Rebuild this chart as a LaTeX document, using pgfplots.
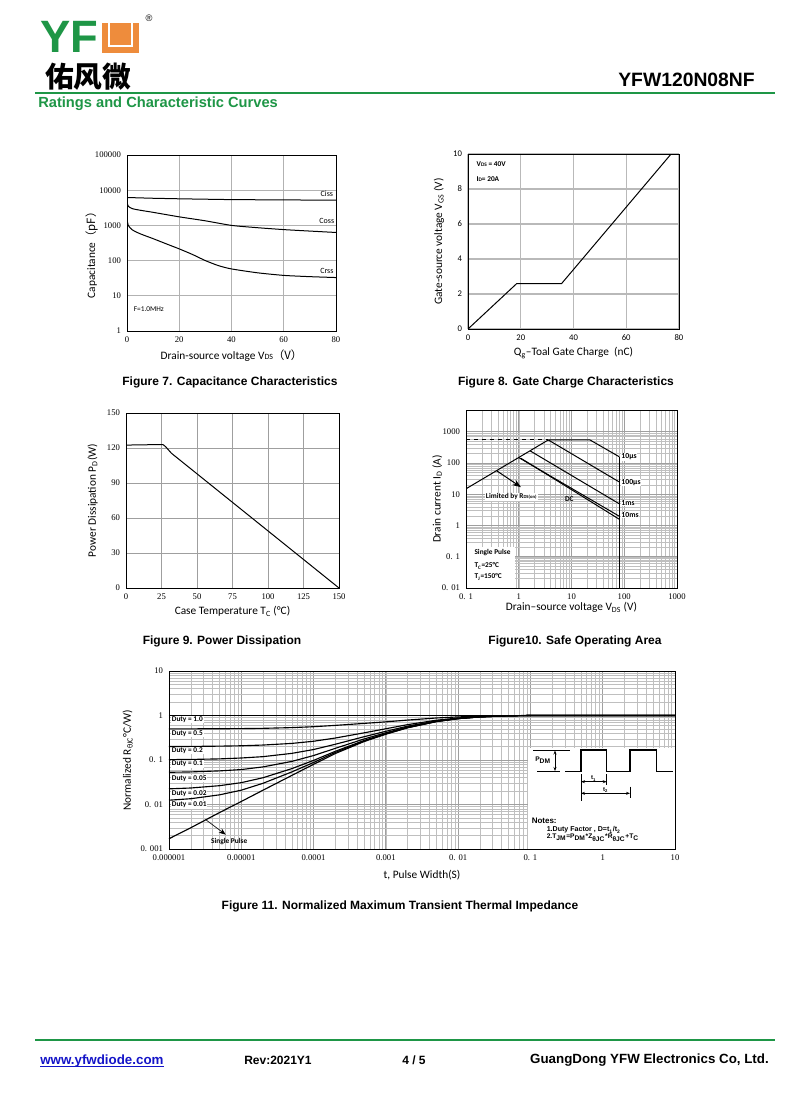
\documentclass[border=0pt]{standalone}
\usepackage{fontspec}
\usepackage{pgfplots}
\pgfplotsset{compat=1.18}
\usetikzlibrary{arrows.meta}
\setmainfont{Liberation Serif}
\newfontfamily\calib{Carlito}
\newfontfamily\ari{Liberation Sans}
\newfontfamily\cjk{Noto Sans CJK SC}
\definecolor{yfgreen}{RGB}{30,150,70}
\definecolor{yforange}{RGB}{238,140,60}
\definecolor{linkblue}{RGB}{20,20,200}
\pgfplotsset{
  dsbase/.style={scale only axis, anchor=south west,
    axis line style={line width=0.6pt},
    major tick length=0pt, minor tick length=0pt,
    tick label style={font=\fontsize{6.5}{7}\selectfont},
    label style={font=\calib\fontsize{8.5}{9}\selectfont},
    xticklabel style={yshift=-1pt}, yticklabel style={xshift=-1pt}},
}
\tikzset{cv/.style={black, line width=0.75pt, mark=none}}
\begin{document}
\begin{tikzpicture}
\useasboundingbox (0,0) rectangle (600pt,-824.25pt);
\fill[white] (0,0) rectangle (600pt,-824.25pt);

% ---------------- Figure 7
\begin{axis}[dsbase, at={(95.25pt,-248.25pt)}, width=156.75pt, height=132pt,
  xmin=0, xmax=80, ymin=1, ymax=100000, ymode=log,
  xtick={0,20,40,60,80}, xticklabels={0,20,40,60,80},
  ytick={1,10,100,1000,10000,100000}, yticklabels={1,10,100,1000,10000,100000},
  grid=major, major grid style={gray!60, line width=0.6pt},
  xlabel={Drain-source voltage V{\fontsize{6}{6}\selectfont DS}{\cjk （V）}},
  xlabel style={yshift=2pt},
  ylabel={Capacitance{\cjk （pF）}},
  ylabel style={yshift=-9pt, xshift=-7pt}]
\addplot[cv] coordinates {(0,6200) (10,5900) (20,5700) (40,5400) (60,5300) (80,5200)};
\addplot[cv, smooth, tension=0.4] coordinates {(0,4500) (0.5,3500) (2,3000) (5,2700) (10,2350) (20,1750) (30,1350) (40,1000) (50,860) (60,760) (70,690) (80,630)};
\addplot[cv, smooth, tension=0.4] coordinates {(0,1550) (0.5,1000) (2,750) (5,580) (10,420) (15,300) (20,215) (25,150) (30,100) (35,72) (40,58) (50,45) (60,38) (70,35) (80,33)};
\node[font=\calib\fontsize{6}{6}\selectfont] at (axis cs:76.5,8000) {Ciss};
\node[font=\calib\fontsize{6}{6}\selectfont] at (axis cs:76.5,1300) {Coss};
\node[font=\calib\fontsize{6}{6}\selectfont] at (axis cs:76.5,52) {Crss};
\node[anchor=west, font=\calib\fontsize{5.5}{6}\selectfont] at (axis cs:0.8,4.1) {F=1.0MHz};
\draw[line width=0.6pt] (rel axis cs:0,0) rectangle (rel axis cs:1,1);
\end{axis}

% ---------------- Figure 8
\begin{axis}[dsbase, at={(351pt,-246.75pt)}, width=158.25pt, height=131.25pt,
  xmin=0, xmax=80, ymin=0, ymax=10,
  xtick={0,20,40,60,80}, xticklabels={0,20,40,60,80},
  ytick={0,2,4,6,8,10}, yticklabels={0,2,4,6,8,10},
  tick label style={font=\calib\fontsize{6.5}{7}\selectfont},
  grid=major, major grid style={gray!55, line width=1pt},
  xlabel={Q\textsubscript{g}–Toal Gate Charge~~(nC)},
  xlabel style={yshift=2pt},
  ylabel={Gate-source voltage V\textsubscript{GS} (V)}]
\addplot[cv] coordinates {(0,0) (18.5,2.6) (35.5,2.6) (40,3.4) (77,10)};
\node[anchor=west, font=\calib\bfseries\fontsize{5.5}{6}\selectfont] at (axis cs:1.5,9.4) {V{\fontsize{4}{4}\selectfont DS} = 40V};
\node[anchor=west, font=\calib\bfseries\fontsize{5.5}{6}\selectfont] at (axis cs:1.5,8.55) {I{\fontsize{4}{4}\selectfont D}= 20A};
\draw[line width=0.6pt] (rel axis cs:0,0) rectangle (rel axis cs:1,1);
\end{axis}

% ---------------- Figure 9
\begin{axis}[dsbase, at={(94.5pt,-441pt)}, width=159.75pt, height=131.25pt,
  xmin=0, xmax=150, ymin=0, ymax=150,
  xtick={0,25,50,75,100,125,150}, xticklabels={0,25,50,75,100,125,150},
  ytick={0,30,60,90,120,150}, yticklabels={0,30,60,90,120,150},
  grid=major, major grid style={gray!75, line width=0.7pt},
  xlabel={Case Temperature T\textsubscript{C} (°C)},
  xlabel style={yshift=2pt},
  ylabel={Power Dissipation P\textsubscript{D}(W)}]
\addplot[cv] coordinates {(0,122.5) (26,123) (28,121) (32,115.5) (150,0)};
\draw[line width=0.6pt] (rel axis cs:0,0) rectangle (rel axis cs:1,1);
\end{axis}

% ---------------- Figure 10
\begin{axis}[dsbase, at={(349.5pt,-441pt)}, width=158.25pt, height=133.5pt,
  xmode=log, ymode=log, xmin=0.1, xmax=1000, ymin=0.01, ymax=5000,
  xtick={0.1,1,10,100,1000}, xticklabels={0. 1,1,10,100,1000},
  ytick={0.01,0.1,1,10,100,1000}, yticklabels={0. 01,0. 1,1,10,100,1000},
  grid=both, minor grid style={gray!50, line width=0.35pt},
  major grid style={gray!75, line width=0.55pt},
  xlabel={Drain–source voltage V\textsubscript{DS} (V)},
  xlabel style={yshift=5pt},
  ylabel={Drain current I\textsubscript{D} (A)},
  ylabel style={yshift=-7pt}]
\fill[white] (axis cs:0.1,0.01) rectangle (axis cs:0.85,0.21);
\addplot[cv, dashed] coordinates {(0.1,550) (3.63,550)};
\addplot[cv] coordinates {(0.1,15) (3.63,550)};
\addplot[cv] coordinates {(3.63,550) (22.4,550) (80,160)};
\addplot[cv] coordinates {(3.63,550) (80,25)};
\addplot[cv] coordinates {(1.65,245) (80,5)};
\addplot[cv] coordinates {(1.0,150) (80,2.0)};
\addplot[cv] coordinates {(1.1,142) (80,1.6)};
\addplot[cv] coordinates {(80,160) (80,0.01)};
\draw[cv, -Stealth] (axis cs:0.38,57) -- (axis cs:1.1,17);
\node[fill=white, inner sep=0.8pt, font=\calib\bfseries\fontsize{5.5}{6}\selectfont] at (axis cs:0.72,8.2) {Limited by R{\fontsize{3.5}{4}\selectfont DS(on)}};
\node[font=\calib\bfseries\fontsize{5.5}{6}\selectfont] at (axis cs:9.1,6.8) {DC};
\node[anchor=west, fill=white, inner sep=0.5pt, font=\calib\bfseries\fontsize{5.8}{6}\selectfont] at (axis cs:85,160) {10µs};
\node[anchor=west, fill=white, inner sep=0.5pt, font=\calib\bfseries\fontsize{5.8}{6}\selectfont] at (axis cs:85,24) {100µs};
\node[anchor=west, fill=white, inner sep=0.5pt, font=\calib\bfseries\fontsize{5.8}{6}\selectfont] at (axis cs:85,5.2) {1ms};
\node[anchor=west, fill=white, inner sep=0.5pt, font=\calib\bfseries\fontsize{5.8}{6}\selectfont] at (axis cs:85,2.2) {10ms};
\node[anchor=west, font=\calib\bfseries\fontsize{5.5}{6}\selectfont] at (axis cs:0.118,0.135) {Single Pulse};
\node[anchor=west, font=\calib\bfseries\fontsize{5.5}{6}\selectfont] at (axis cs:0.118,0.0513) {T\textsubscript{C}=25°C};
\node[anchor=west, font=\calib\bfseries\fontsize{5.5}{6}\selectfont] at (axis cs:0.118,0.0226) {T\textsubscript{J}=150°C};
\draw[line width=0.6pt] (rel axis cs:0,0) rectangle (rel axis cs:1,1);
\end{axis}

% ---------------- Figure 11
\begin{axis}[dsbase, at={(126.75pt,-636.75pt)}, width=379.5pt, height=133.5pt,
  xmode=log, ymode=log, xmin=0.000001, xmax=10, ymin=0.001, ymax=10,
  xtick={0.000001,0.00001,0.0001,0.001,0.01,0.1,1,10},
  xticklabels={0.000001,0.00001,0.0001,0.001,0. 01,0. 1,1,10},
  ytick={0.001,0.01,0.1,1,10}, yticklabels={0. 001,0. 01,0. 1,1,10},
  grid=both, minor grid style={gray!50, line width=0.35pt},
  major grid style={gray!75, line width=0.55pt},
  xlabel={t, Pulse Width(S)},
  ylabel={Normalized R\textsubscript{θJC}°C/W)},
  ylabel style={yshift=-1pt}]
\fill[white] (axis cs:0.092,0.001) rectangle (axis cs:10,0.186);
\node[anchor=west, fill=white, inner sep=0.6pt, font=\calib\bfseries\fontsize{5.5}{6}\selectfont] at (axis cs:0.00000106,0.822) {Duty = 1.0};
\node[anchor=west, fill=white, inner sep=0.6pt, font=\calib\bfseries\fontsize{5.5}{6}\selectfont] at (axis cs:0.00000106,0.398) {Duty = 0.5};
\node[anchor=west, fill=white, inner sep=0.6pt, font=\calib\bfseries\fontsize{5.5}{6}\selectfont] at (axis cs:0.00000106,0.162) {Duty = 0.2};
\node[anchor=west, fill=white, inner sep=0.6pt, font=\calib\bfseries\fontsize{5.5}{6}\selectfont] at (axis cs:0.00000106,0.0813) {Duty = 0.1};
\node[anchor=west, fill=white, inner sep=0.6pt, font=\calib\bfseries\fontsize{5.5}{6}\selectfont] at (axis cs:0.00000106,0.0388) {Duty = 0.05};
\node[anchor=west, fill=white, inner sep=0.6pt, font=\calib\bfseries\fontsize{5.5}{6}\selectfont] at (axis cs:0.00000106,0.01786) {Duty = 0.02};
\node[anchor=west, fill=white, inner sep=0.6pt, font=\calib\bfseries\fontsize{5.5}{6}\selectfont] at (axis cs:0.00000106,0.00975) {Duty = 0.01};
\addplot[cv, line width=0.9pt] coordinates {(0.000001,1) (10,1)};
\addplot[cv, line width=0.85pt] coordinates {(0.000001,0.501) (0.000002,0.502) (0.000005,0.504) (0.00001,0.508) (0.00002,0.515) (0.00005,0.535) (0.0001,0.56) (0.0002,0.60) (0.0005,0.665) (0.001,0.72) (0.002,0.79) (0.005,0.88) (0.01,0.93) (0.02,0.97) (0.05,0.994) (0.1,1) (1,1) (10,1)};
\addplot[cv, line width=0.85pt] coordinates {(0.000001,0.201) (0.000002,0.202) (0.000005,0.205) (0.00001,0.209) (0.00002,0.217) (0.00005,0.236) (0.0001,0.264) (0.0002,0.312) (0.0005,0.408) (0.001,0.504) (0.002,0.624) (0.005,0.784) (0.01,0.88) (0.02,0.944) (0.05,0.988) (0.1,1) (1,1) (10,1)};
\addplot[cv, line width=0.85pt] coordinates {(0.000001,0.102) (0.000002,0.103) (0.000005,0.106) (0.00001,0.111) (0.00002,0.119) (0.00005,0.141) (0.0001,0.172) (0.0002,0.226) (0.0005,0.334) (0.001,0.442) (0.002,0.577) (0.005,0.757) (0.01,0.865) (0.02,0.937) (0.05,0.987) (0.1,1) (1,1) (10,1)};
\addplot[cv, line width=0.85pt] coordinates {(0.000001,0.053) (0.000002,0.054) (0.000005,0.057) (0.00001,0.061) (0.00002,0.070) (0.00005,0.093) (0.0001,0.126) (0.0002,0.183) (0.0005,0.297) (0.001,0.41) (0.002,0.554) (0.005,0.744) (0.01,0.858) (0.02,0.934) (0.05,0.986) (0.1,1) (1,1) (10,1)};
\addplot[cv, line width=0.85pt] coordinates {(0.000001,0.0225) (0.000002,0.0235) (0.000005,0.0265) (0.00001,0.031) (0.00002,0.040) (0.00005,0.064) (0.0001,0.098) (0.0002,0.157) (0.0005,0.275) (0.001,0.392) (0.002,0.54) (0.005,0.735) (0.01,0.853) (0.02,0.931) (0.05,0.985) (0.1,1) (1,1) (10,1)};
\addplot[cv, line width=0.85pt] coordinates {(0.000001,0.0125) (0.000002,0.0135) (0.000005,0.0165) (0.00001,0.021) (0.00002,0.030) (0.00005,0.054) (0.0001,0.088) (0.0002,0.148) (0.0005,0.267) (0.001,0.386) (0.002,0.535) (0.005,0.733) (0.01,0.852) (0.02,0.931) (0.05,0.985) (0.1,1) (1,1) (10,1)};
\addplot[cv, line width=0.85pt] coordinates {(0.000001,0.0017) (0.000002,0.0030) (0.000005,0.0066) (0.00001,0.0117) (0.00002,0.021) (0.00005,0.045) (0.0001,0.080) (0.0002,0.14) (0.0005,0.26) (0.001,0.38) (0.002,0.53) (0.005,0.73) (0.01,0.85) (0.02,0.93) (0.05,0.985) (0.1,1)};
\draw[black, line width=0.5pt, -Stealth] (axis cs:0.0000032,0.0046) -- (axis cs:0.0000061,0.0021);
\node[font=\calib\bfseries\fontsize{5.5}{6}\selectfont] at (axis cs:0.0000068,0.00145) {Single Pulse};
\draw[line width=0.6pt] (rel axis cs:0,0) rectangle (rel axis cs:1,1);
\end{axis}

% ---------------- page decoration (pixel coordinates)
\begin{scope}[x=0.75pt,y=-0.75pt]
% logo
\node[anchor=base west, inner sep=0, text=yfgreen, font=\ari\bfseries\fontsize{34}{34}\selectfont] at (40,53) {YF};
\fill[yforange] (102,23) rectangle (139,53);
\draw[white, line width=1.6pt] (109,23) -- (109,46) -- (132,46) -- (132,23);
\node[font=\ari\fontsize{7}{7}\selectfont] at (149,18) {®};
\node[anchor=base west, inner sep=0, font=\cjk\bfseries\fontsize{21.5}{22}\selectfont] at (45,88) {佑风微};
\node[anchor=base east, inner sep=0, font=\ari\bfseries\fontsize{14.5}{15}\selectfont] at (755,86) {YFW120N08NF};
\draw[yfgreen, line width=1.5pt] (35,93) -- (775,93);
\node[anchor=base west, inner sep=0, text=yfgreen, font=\ari\bfseries\fontsize{11}{11}\selectfont] at (38,108) {Ratings and Characteristic Curves};
% captions
\node[font=\ari\bfseries\fontsize{9}{9}\selectfont] at (230,382) {Figure 7. Capacitance Characteristics};
\node[font=\ari\bfseries\fontsize{9}{9}\selectfont] at (566,382) {Figure 8. Gate Charge Characteristics};
\node[font=\ari\bfseries\fontsize{9}{9}\selectfont] at (222,641) {Figure 9. Power Dissipation};
\node[font=\ari\bfseries\fontsize{9}{9}\selectfont] at (575,641) {Figure10. Safe Operating Area};
\node[font=\ari\bfseries\fontsize{9}{9}\selectfont] at (400,906) {Figure 11. Normalized Maximum Transient Thermal Impedance};
% pulse diagram in figure 11
\draw[line width=0.7pt] (533,750) -- (570,750);
\draw[line width=0.7pt] (537,771.5) -- (560,771.5);
\draw[line width=0.6pt, {Stealth[length=3pt]}-{Stealth[length=3pt]}] (555,750.5) -- (555,771);
\node[anchor=east, inner sep=0, font=\ari\bfseries\fontsize{5}{5}\selectfont] at (551,760) {P\textsubscript{DM}};
\draw[line width=0.9pt] (565,771.5) -- (581,771.5) -- (581,750) -- (606.7,750) -- (606.7,771.5) -- (630,771.5) -- (630,750) -- (656.7,750) -- (656.7,771.5) -- (673.3,771.5);
\draw[line width=0.5pt] (581,774) -- (581,801);
\draw[line width=0.5pt] (606.7,774) -- (606.7,785);
\draw[line width=0.5pt] (630,786.7) -- (630,798.3);
\draw[line width=0.5pt, {Stealth[length=3pt]}-{Stealth[length=3pt]}] (581,781.7) -- (606.7,781.7);
\draw[line width=0.5pt, {Stealth[length=3pt]}-{Stealth[length=3pt]}] (581,793.3) -- (630,793.3);
\node[font=\ari\bfseries\fontsize{4.5}{5}\selectfont, inner sep=0] at (593.5,778.5) {t\textsubscript{1}};
\node[font=\ari\bfseries\fontsize{4.5}{5}\selectfont, inner sep=0] at (605.5,790) {t\textsubscript{2}};
\node[anchor=west, inner sep=0, font=\ari\bfseries\fontsize{6}{6}\selectfont] at (531.5,821) {Notes:};
\node[anchor=west, inner sep=0, font=\ari\bfseries\fontsize{5.3}{6}\selectfont] at (546.5,830) {1.Duty Factor , D=t\textsubscript{1}/t\textsubscript{2}};
\node[anchor=west, inner sep=0, font=\ari\bfseries\fontsize{5}{6}\selectfont] at (546.5,837.5) {2.T\textsubscript{JM}=P\textsubscript{DM}*Z\textsubscript{θJC}*R\textsubscript{θJC}+T\textsubscript{C}};
% footer
\draw[yfgreen, line width=1.5pt] (35,1040) -- (775,1040);
\node[anchor=base west, inner sep=0, text=linkblue, font=\ari\bfseries\fontsize{10}{10}\selectfont] (www) at (40,1064) {www.yfwdiode.com};
\draw[linkblue, line width=0.6pt] (40,1066) -- (www.base east |- 0,1066);
\node[anchor=base west, inner sep=0, font=\ari\bfseries\fontsize{9}{10}\selectfont] at (244,1064) {Rev:2021Y1};
\node[anchor=base west, inner sep=0, font=\ari\bfseries\fontsize{9}{10}\selectfont] at (402,1064) {4 / 5};
\node[anchor=base east, inner sep=0, font=\ari\bfseries\fontsize{10}{11}\selectfont] at (769,1063) {GuangDong YFW Electronics Co, Ltd.};
\end{scope}
\end{tikzpicture}
\end{document}
